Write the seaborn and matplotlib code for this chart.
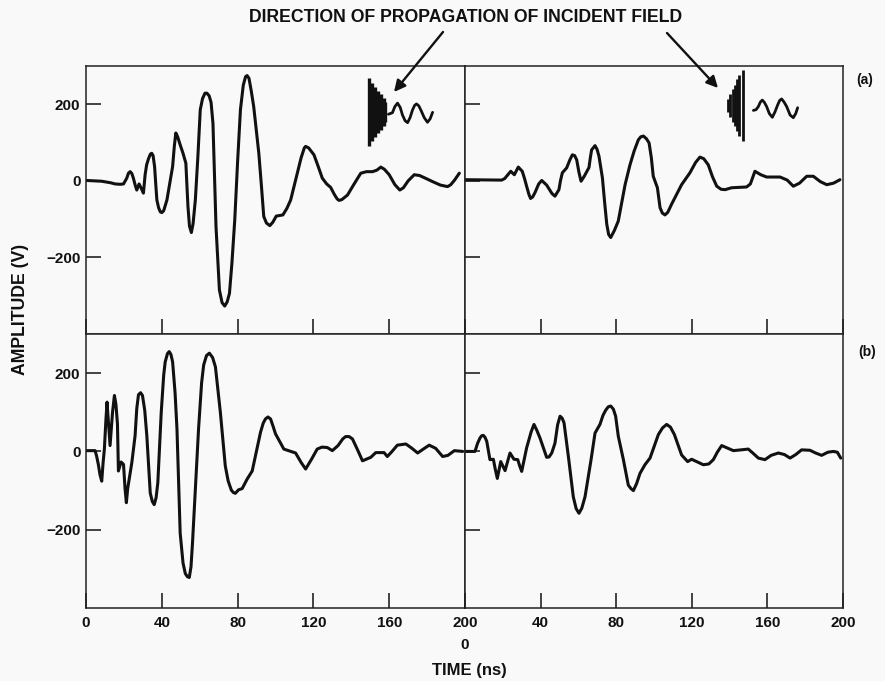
import matplotlib
matplotlib.use("Agg")
import matplotlib.pyplot as plt
import seaborn as sns

# values: time in ns, amplitude in V
t_a1 = [0.4, 8.3, 13, 15.3, 18, 19.8, 21.5, 22.4, 23.3, 24.2, 25, 26, 26.8, 28, 29.1, 30.3,
        31.2, 32, 33, 34, 34.7, 35.4, 36.2, 36.9, 37.4, 38.3, 39.2, 40, 41, 42.7, 45.7, 46.6, 47.4, 48.3, 49.7, 51.2, 52.7,
        53.8, 54.6, 55.6, 56.5, 57.7, 59, 60.3, 61.5, 62.8, 63.8, 65, 66, 67, 68.6, 70.4, 71.8, 73.2, 74.5, 75.7, 77, 78.5,
        80, 81.5, 83, 84.2, 85, 86, 87.2, 88.5, 91.2, 92.6, 93.8, 95.2, 97, 98.6, 100.4, 103.9, 106, 108, 111.5, 113.5,
        115.2, 115.9, 117.5, 120.3, 122.5, 124.7, 127, 129.1, 131, 132.5, 133.5, 135, 138, 141.5, 145, 148, 151.2, 153.5,
        155.6, 157.5, 160, 163, 165.6, 167.5, 170, 173.2, 176, 179.5, 182.9, 187, 190.8, 192.5, 194.5, 197]
v_a1 = [1, -1, -5, -8, -9, -8, 7, 20, 24, 19, 7, -12, -24, -8, -19, -32,
        16, 42, 58, 70, 72, 66, 37, -15, -50, -70, -81, -83, -78, -50, 37, 90, 125, 116, 94, 72, 46,
        -67, -118, -135, -112, -50, 60, 186, 215, 229, 229, 222, 205, 150, -119, -285, -318, -327, -316, -294, -215, -102,
        50, 186, 250, 272, 275, 268, 235, 194, 72, -15, -93, -110, -117, -108, -92, -89, -72, -50, 20, 60,
        86, 90, 86, 68, 38, 7, -8, -17, -35, -47, -51, -49, -37, -8, 20, 24, 24, 28,
        36, 30, 16, -10, -24, -18, 0, 16, 14, 6, -2, -11, -15, -10, 2, 20]

t_a2 = [0, 19.4, 21, 22, 24.2, 26.1, 28.2, 30.3, 31.5, 32.6, 33.8, 34.7, 35.8, 37, 39, 40.6, 43.2, 46, 47.6, 49.7, 50.5,
        51.5, 53.8, 55.5, 56.8, 58, 59.1, 60.3, 61.4, 63.1, 65.6, 66.3, 67, 68.8, 69.9, 70.9, 72.7, 73.8, 75, 76, 77.1,
        79, 81.1, 84.7, 87.3, 89.5, 91.7, 93, 94.4, 96, 97.4, 98.6, 99.6, 101.8, 103.2, 104.4, 105.8, 107.3, 109.3, 114.6,
        119, 122, 124.3, 126.3, 128.7, 131, 133.2, 135.5, 137.6, 141.1, 149, 151, 153.4, 156.5, 159.6, 163, 166.7, 170.5,
        173.7, 177, 180.8, 184.3, 188, 191.4, 195, 198.4]
v_a2 = [3, 2, 6, 12, 25, 16, 36, 25, 6, -14, -35, -46, -42, -31, -8, 1, -11, -33, -40, -23, 0,
        21, 34, 55, 68, 66, 55, 22, -1, 12, 35, 60, 81, 92, 82, 64, 8, -52, -113, -140, -148,
        -130, -105, -10, 42, 78, 107, 115, 117, 110, 99, 60, 12, -18, -70, -84, -89, -82, -61, -10,
        21, 48, 62, 58, 42, 10, -14, -22, -23, -18, -16, -8, 25, 16, 10, 10, 10, 2,
        -14, -6, 12, 12, -2, -10, -6, 3]

t_b1 = [0.4, 4.8, 5.6, 6.5, 7.4, 8.3, 9, 9.7, 10.5, 11.1, 11.9, 12.7, 14, 15, 15.8, 16.6, 17.1, 18.5, 19.8, 20.6, 21.3, 22,
        24.2, 25.9, 26.8, 27.7, 28.8, 29.8, 31, 32.1, 33.9, 35, 36, 37, 37.9, 39.7, 41, 41.8, 43, 43.9, 44.8, 45.7, 47, 48,
        49.7, 51.2, 52.4, 53.5, 54.5, 55.4, 56.2, 59.4, 61, 62.1, 63.6, 65.1, 66.8, 68.3, 70.9, 73.5, 75, 76.7, 77.8, 78.8,
        80.5, 82.4, 85, 87.7, 92.1, 93.5, 94.7, 96, 97.4, 98.6, 100, 104.4, 110.6, 113.5, 115.9, 119, 122, 124.5, 127.3, 130,
        133, 135.5, 137, 138.8, 140.6, 143.5, 145.9, 150.3, 152.9, 157.3, 159, 161.5, 164.3, 168.8, 172, 175, 178, 181.1,
        184.5, 188.2, 191, 194.4, 198.8]
v_b1 = [2, 2, -12, -33, -60, -76, -30, 6, 80, 126, 70, 15, 100, 143, 120, 70, -50, -27, -33, -95, -131, -95,
        -28, 40, 110, 145, 150, 143, 105, 40, -106, -128, -136, -118, -80, 100, 195, 229, 250, 255, 248, 229, 150, 58,
        -209, -285, -312, -320, -322, -295, -234, 58, 175, 221, 245, 251, 240, 216, 100, -37, -75, -99, -105, -107,
        -98, -95, -71, -50, 49, 72, 83, 88, 83, 66, 45, 6, -4, -28, -45, -20, 6, 11, 10, 2,
        15, 32, 38, 38, 32, 2, -24, -15, -3, -3, -13, 0, 16, 19, 8, -4, 6, 16,
        8, -13, -10, 2, 0]

t_b2 = [0, 5.3, 6.6, 7.9, 8.8, 9.7, 10.6, 11.5, 13.2, 15, 16, 17.1, 18.9, 21.2, 23.8, 25.9, 27.9, 29, 30, 32.6, 35, 36.5,
        38, 39.7, 43.2, 44.5, 45.9, 47.6, 49, 50.3, 51.4, 52.4, 54.7, 57.3, 58.8, 60.3, 61.8, 63.5, 66.7, 68.8, 71.4, 73,
        74.4, 75.8, 77.1, 78.5, 79.7, 81.1, 83.8, 86.4, 87.8, 89.1, 90.8, 92.6, 95.2, 97.9, 102.3, 104.5, 106.7, 108.7, 110.8,
        114.6, 117.8, 119.9, 126.1, 129, 131.4, 133.5, 135.8, 142, 146, 149.9, 152.5, 155.2, 158.7, 162, 165.8, 169, 172,
        175, 178.1, 182.5, 185.5, 188.7, 192, 194.9, 197, 198.8]
v_b2 = [0, 0, 20, 34, 40, 41, 36, 26, -21, -20, -45, -69, -26, -49, -4, -20, -21, -38, -51, 9, 50, 69,
        54, 34, -15, -14, -4, 21, 68, 90, 85, 73, -13, -116, -146, -158, -145, -116, -21, 47, 69, 92,
        105, 114, 116, 108, 90, 39, -21, -86, -95, -100, -82, -56, -34, -17, 43, 60, 69, 62, 43,
        -9, -26, -20, -34, -32, -21, -2, 15, 2, 4, 6, -5, -17, -21, -10, -4, -8, -17,
        -8, 4, 3, -4, -10, -2, 0, -2, -17]

# little incident field sketches inside the top panels
wave1_t = [159.6, 161.7, 163, 164.4, 165.8, 167, 168.4, 169.7, 171, 172.3, 173.4, 174.4, 175.6, 176.7, 178.5, 180.2, 181.6, 182.9]
wave1_v = [174, 178, 194, 203, 192, 172, 157, 152, 165, 185, 197, 201, 196, 185, 165, 153, 162, 179]
wave2_t = [152.6, 154, 155.2, 156.3, 157.3, 158.4, 159.6, 161, 162.6, 164, 165.4, 166.5, 167.5, 168.8, 170.2, 172, 173.7, 175, 176]
wave2_v = [184, 186, 194, 206, 211, 205, 194, 176, 166, 180, 198, 210, 214, 206, 194, 172, 165, 176, 191]
front1_t = [149.5, 151, 152.5, 154, 155.5, 157, 158]
front1_h = [89, 76, 66, 56, 46, 36, 26]
front2_t = [147.1, 145.2, 144, 142.8, 141.6, 140.4, 139.3]
front2_h = [92, 80, 68, 54, 42, 30, 18]

x_ticks = [0, 40, 80, 120, 160, 200]
y_ticks = [-200, 0, 200]

W, H = 885, 681
BG = "#f9f9f9"

sns.set_theme(style="white")
plt.rcParams["font.family"] = ["Liberation Sans", "DejaVu Sans"]
plt.rcParams["font.weight"] = "bold"
plt.rcParams["axes.facecolor"] = BG
plt.rcParams["figure.facecolor"] = BG


def box(x0, y0, x1, y1):
    return [x0 / W, 1 - y1 / H, (x1 - x0) / W, (y1 - y0) / H]


fig = plt.figure(figsize=(W / 100, H / 100), dpi=100)
ax_a1 = fig.add_axes(box(86, 66, 465, 334))
ax_a2 = fig.add_axes(box(465, 66, 843, 334))
ax_b1 = fig.add_axes(box(86, 334, 465, 608))
ax_b2 = fig.add_axes(box(465, 334, 843, 608))

traces = [(ax_a1, t_a1, v_a1), (ax_a2, t_a2, v_a2), (ax_b1, t_b1, v_b1), (ax_b2, t_b2, v_b2)]
for ax, t, v in traces:
    sns.lineplot(x=t, y=v, ax=ax, color="#111111", linewidth=2.2, estimator=None, sort=False)
    ax.lines[0].set_solid_joinstyle("round")
    ax.set_xlim(0, 200)
    ax.set_ylim(-400, 300)
    ax.set_xticks(x_ticks)
    ax.set_yticks(y_ticks)
    ax.tick_params(direction="in", length=11, width=1.1, color="#111111", labelsize=11,
                   labelcolor="#111111", bottom=True, left=True,
                   labelleft=False, labelbottom=False)
    ax.tick_params(axis="x", pad=6)
    ax.tick_params(axis="y", pad=4)
    for s in ax.spines.values():
        s.set_color("#222222")
        s.set_linewidth(1.1)

for ax in (ax_a1, ax_b1):
    ax.tick_params(labelleft=True)
ax_b1.tick_params(labelbottom=True)
ax_b2.tick_params(labelbottom=True)
ax_b2.set_xticklabels([""] + [str(x) for x in x_ticks[1:]])

# incident field sketches
for ax, wt, wv in [(ax_a1, wave1_t, wave1_v), (ax_a2, wave2_t, wave2_v)]:
    sns.lineplot(x=wt, y=wv, ax=ax, color="#111111", linewidth=2.0, estimator=None, sort=False)
    ax.lines[1].set_solid_joinstyle("round")
ax_a1.vlines(front1_t, [180 - h for h in front1_h], [180 + h for h in front1_h], color="#111111", linewidth=2.4)
ax_a2.vlines(front2_t, [197 - h for h in front2_h], [197 + h for h in front2_h], color="#111111", linewidth=2.0)


def px_text(x, y, s, **kw):
    fig.text(x / W, 1 - y / H, s, ha="center", va="center", color="#111111", fontweight="bold", **kw)


px_text(466, 18, "DIRECTION OF PROPAGATION OF INCIDENT FIELD", fontsize=12.7)
px_text(465, 645, "0", fontsize=11)
px_text(469, 670, "TIME (ns)", fontsize=12)
px_text(21, 309, "AMPLITUDE (V)", fontsize=12.7, rotation=90)
px_text(865, 80, "(a)", fontsize=10)
px_text(867, 352, "(b)", fontsize=10)

for tail, tip in [((443, 32), (394, 92)), ((667, 33), (718, 88))]:
    fig.add_artist(matplotlib.patches.FancyArrowPatch(
        (tail[0] / W, 1 - tail[1] / H), (tip[0] / W, 1 - tip[1] / H),
        transform=fig.transFigure, arrowstyle="-|>", mutation_scale=17,
        color="#111111", linewidth=1.7, shrinkA=0, shrinkB=0))

fig.savefig("out.png", dpi=100, facecolor=BG)
